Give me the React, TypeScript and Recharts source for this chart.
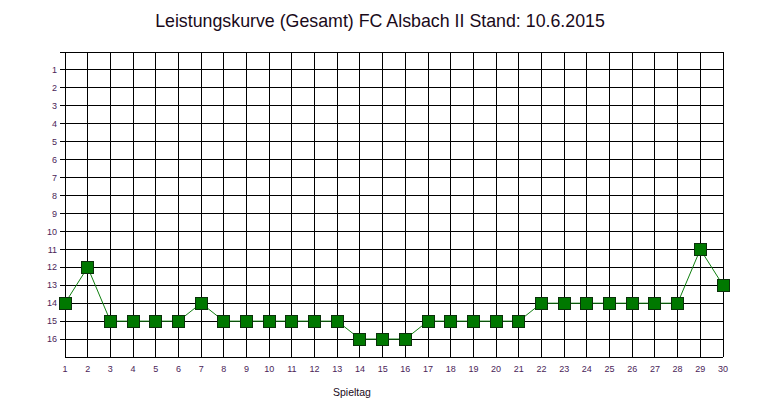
import React from 'react';
import { LineChart, Line, XAxis, YAxis, CartesianGrid } from 'recharts';

const spieltage = [1, 2, 3, 4, 5, 6, 7, 8, 9, 10, 11, 12, 13, 14, 15, 16, 17, 18, 19, 20, 21, 22, 23, 24, 25, 26, 27, 28, 29, 30];
const platz = [14, 12, 15, 15, 15, 15, 14, 15, 15, 15, 15, 15, 15, 16, 16, 16, 15, 15, 15, 15, 15, 14, 14, 14, 14, 14, 14, 14, 11, 13];
const yTicks = [0, 1, 2, 3, 4, 5, 6, 7, 8, 9, 10, 11, 12, 13, 14, 15, 16];

const data = spieltage.map((s, i) => ({ spieltag: s, platz: platz[i] }));

const tickStyle = { fontSize: 9, fill: '#4a2458', fontFamily: 'Liberation Sans, Arial, sans-serif' };

const SquareDot = (props: any) => {
  const { cx, cy } = props;
  if (cx == null || cy == null) return null;
  return (
    <rect x={cx - 6} y={cy - 6} width={12} height={12} fill="#007800" stroke="#0a300a" strokeWidth={1} shapeRendering="crispEdges" />
  );
};

export default function App() {
  return (
    <div style={{ position: 'absolute', left: 0, top: 0, width: 781, height: 413, background: '#fff' }}>
      <style>{'.recharts-cartesian-grid line, .recharts-cartesian-axis-line, .recharts-cartesian-axis-tick-line { shape-rendering: crispEdges; }'}</style>
      <div style={{ position: 'absolute', left: 0, width: 760, top: 11, textAlign: 'center', fontFamily: 'Liberation Sans, Arial, sans-serif', fontSize: 17.8, color: '#1a0a1a' }}>
        Leistungskurve (Gesamt) FC Alsbach II Stand: 10.6.2015
      </div>
      <LineChart width={781} height={413} data={data} margin={{ top: 52, right: 58, left: 0, bottom: 0 }}>
        <CartesianGrid stroke="#000" strokeWidth={1} />
        <XAxis
          dataKey="spieltag"
          type="number"
          domain={[1, 30]}
          ticks={spieltage}
          interval={0}
          height={56}
          tick={tickStyle}
          tickLine={false}
          tickSize={6}
          tickMargin={3}
          axisLine={{ stroke: '#000' }}
        />
        <YAxis
          type="number"
          domain={[0, 17]}
          reversed
          ticks={yTicks}
          interval={0}
          width={65}
          tick={tickStyle}
          tickFormatter={(v: number) => (v === 0 ? '' : String(v))}
          tickSize={5}
          tickMargin={3}
          tickLine={{ stroke: '#000' }}
          axisLine={{ stroke: '#000' }}
        />
        <Line
          type="linear"
          dataKey="platz"
          stroke="#108010"
          strokeWidth={1}
          dot={<SquareDot />}
          activeDot={false}
          isAnimationActive={false}
        />
      </LineChart>
      <div style={{ position: 'absolute', left: 333, top: 386, fontFamily: 'Liberation Sans, Arial, sans-serif', fontSize: 10.5, color: '#1a0a1a' }}>
        Spieltag
      </div>
    </div>
  );
}
